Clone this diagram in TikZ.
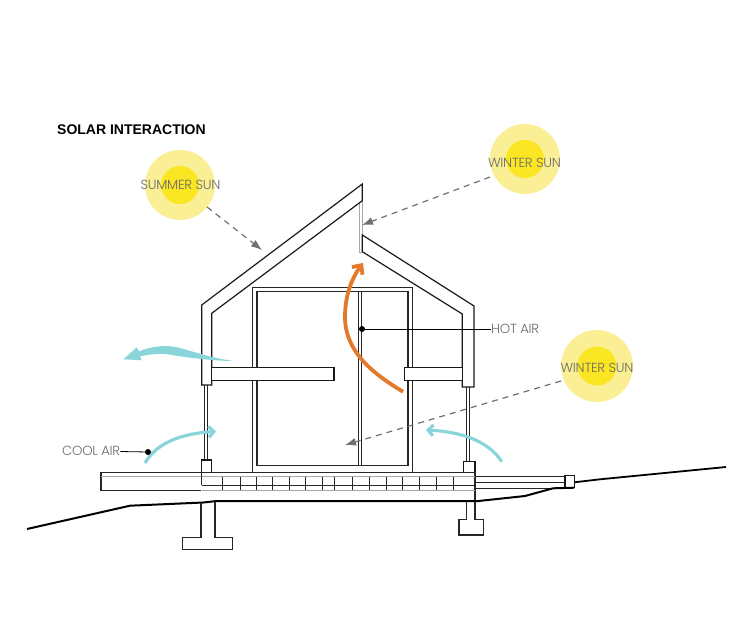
\documentclass[tikz,border=0pt]{standalone}
\usepackage{fontspec}
\setmainfont{Poppins Light}
\newfontfamily\titlefont{Liberation Sans Bold}
\usetikzlibrary{arrows.meta}
\definecolor{sunout}{HTML}{FAEF94}
\definecolor{sunin}{HTML}{FBE624}
\definecolor{teal}{HTML}{8AD5DA}
\definecolor{orng}{HTML}{E2792B}
\definecolor{lbl}{HTML}{6A6A6A}
\definecolor{dash}{HTML}{707070}
\tikzset{
 wall/.style={draw=black!90,line width=1.2pt,fill=white},
 thin/.style={draw=black!85,line width=1pt},
 gray/.style={draw=black!35,line width=.9pt},
 dashar/.style={draw=dash,line width=1.2pt,dash pattern=on 6pt off 5pt,-{Latex[length=11pt,width=8pt]}},
 lab/.style={text=lbl,font=\fontsize{13.2}{15}\selectfont\addfontfeature{LetterSpace=-2}},
 coolar/.style={draw=teal,line width=3.2pt},
 dot/.style={circle,fill=black,inner sep=0,minimum size=6pt},
 ldr/.style={draw=black,line width=.8pt},
}
\begin{document}
\begin{tikzpicture}[x=1pt,y=-1pt]
\useasboundingbox (0,0) rectangle (753,637);
% suns
\fill[sunout] (180,185) circle (35);
\fill[sunin] (180,185) circle (19);
\fill[sunout] (525,159) circle (35);
\fill[sunin] (525,159) circle (19);
\fill[sunout] (597,366) circle (36);
\fill[sunin] (597,366) circle (19.5);
% title
\node[anchor=west,inner sep=0,font=\fontsize{14}{16}\selectfont\titlefont] (title) at (57,130) {SOLAR INTERACTION};
% gray vent
\draw[gray] (359,203) -- (359,252) -- (362,252);
\draw[gray] (362,200) -- (362,235);
% roofs
\draw[wall] (201.7,385) -- (201.7,305) -- (362.3,184) -- (362.3,200.7) -- (211.7,313.3) -- (211.7,385) -- cycle;
\draw[wall] (362.3,235) -- (474,306) -- (474,387) -- (462.3,387) -- (462.3,314) -- (362.3,251.7) -- cycle;
% room
\draw[thin,line width=1.3pt] (252.7,473) -- (252.7,287.7) -- (412.7,287.7) -- (412.7,472.5);
\draw[thin,line width=1.3pt] (257,367) -- (257,291.7) -- (408,291.7) -- (408,367);
\draw[thin,line width=1.3pt] (257,380) -- (257,465.7) -- (408,465.7) -- (408,380);
\draw[thin,line width=1.3pt] (358.3,291.7) -- (358.3,465.7);
\draw[thin,line width=1.3pt] (361.2,291.7) -- (361.2,465.7);
% shelves
\draw[wall] (211.7,367.3) rectangle (334,380.7);
\draw[wall] (404.3,367.3) rectangle (462.3,380.7);
% columns
\draw[thin] (204.3,385) -- (204.3,460);
\draw[thin] (207.3,385) -- (207.3,460);
\draw[thin] (466.7,387) -- (466.7,461.7);
\draw[thin] (469.5,387) -- (469.5,461.7);
\draw[wall] (201.7,460) rectangle (211.3,472.5);
\draw[wall] (463.3,461.7) rectangle (475,472.5);
% deck left
\draw[thin,line width=1.3pt] (201.7,472.5) -- (101,472.5) -- (101,490.7) -- (201,490.7);
\draw[gray] (101,476.7) -- (201.7,476.7);
% floor
\draw[thin,line width=1.3pt] (201.7,472.8) -- (475,472.8) -- (475,501);
\draw[thin] (201.7,472.8) -- (201.7,485);
\draw[gray] (201.7,476.7) -- (475,476.7);
\draw[thin] (201.7,485) -- (475,485);
\draw[gray] (201.7,490.3) -- (475,490.3);
\foreach \x in {222.7,240,256,272.7,289.3,305.7,322.7,334,352.7,369.3,386,402.7,419.3,436,453.3}
  \draw[thin] (\x,476.7) -- (\x,490);
% deck right
\draw[thin] (475,476.7) -- (565,476.7);
\draw[thin,line width=1.2pt] (475,482.7) -- (565,482.7);
\draw[thin] (475,488.3) -- (552,488.3);
\draw[wall] (565,475.7) rectangle (574.3,487.7);
% ground
\draw[black,line width=2pt,line join=round] (27,529) -- (130,505.7) -- (203.3,502.5) -- (215,501.2) -- (476.7,501.2) -- (485,500.3) -- (525,496) -- (553,488.3) -- (574.3,487.7);
\draw[black,line width=1.8pt] (574.3,482.3) -- (600,479.3) -- (726,467);
% footings
\draw[thin,line width=1.3pt] (201,502.5) -- (201,537.3) -- (182.7,537.3) -- (182.7,549.3) -- (232.7,549.3) -- (232.7,537.3) -- (215,537.3) -- (215,502);
\draw[thin,line width=1.3pt] (466.7,501.5) -- (466.7,519.3) -- (459,519.3) -- (459,535) -- (483.3,535) -- (483.3,519.3) -- (475,519.3) -- (475,501.5);
% dashed
\coordinate (s1) at (207,207); \coordinate (t1) at (262,250);
\coordinate (s2) at (490,177); \coordinate (t2) at (362,225);
\coordinate (s3) at (561,381); \coordinate (t3) at (345,445);
\draw[dashar] (s1) -- (t1);
\draw[dashar] (s2) -- (t2);
\draw[dashar] (s3) -- (t3);
% orange
\draw[orng,line width=3.8pt,-{Straight Barb[length=7pt,width=13pt]}] (403,391.7) .. controls (370,372) and (345,350) .. (345,317) .. controls (345,295) and (352,278) .. (363,263);
% teal
\fill[teal] (234.3,361) .. controls (215,359) and (195,352) .. (178,347.5) .. controls (165,344.5) and (150,346.5) .. (139,351.5) -- (136.7,347.3) -- (123.3,359.3) -- (141.7,360.3) -- (140,356.5) .. controls (150,354) and (162,353) .. (172,355) .. controls (190,358) and (215,361) .. (234.3,361) -- cycle;
\draw[coolar,-{Straight Barb[length=5pt,width=11pt]}] (145,463) .. controls (155,446) and (175,434) .. (216,431.5);
\draw[coolar,-{Straight Barb[length=5pt,width=11pt]}] (501.7,461.7) .. controls (490,443) and (465,432) .. (426,430);
% labels
\node[lab,anchor=center,inner sep=0] (ss) at (180.5,185) {SUMMER SUN};
\node[lab,anchor=center,inner sep=0] (ws) at (524.5,162.5) {WINTER SUN};
\node[lab,anchor=center,inner sep=0] (ws2) at (597,367.5) {WINTER SUN};
\node[lab,anchor=west,inner sep=0] (ha) at (491,329) {HOT AIR};
\node[lab,anchor=west,inner sep=0] (ca) at (62,451) {COOL AIR};
\node[dot] (d1) at (362,329) {};
\node[dot] (d2) at (148,452) {};
\draw[ldr] (d1) -- (ha);
\draw[ldr] (d2) -- (ca);
\end{tikzpicture}
\end{document}
